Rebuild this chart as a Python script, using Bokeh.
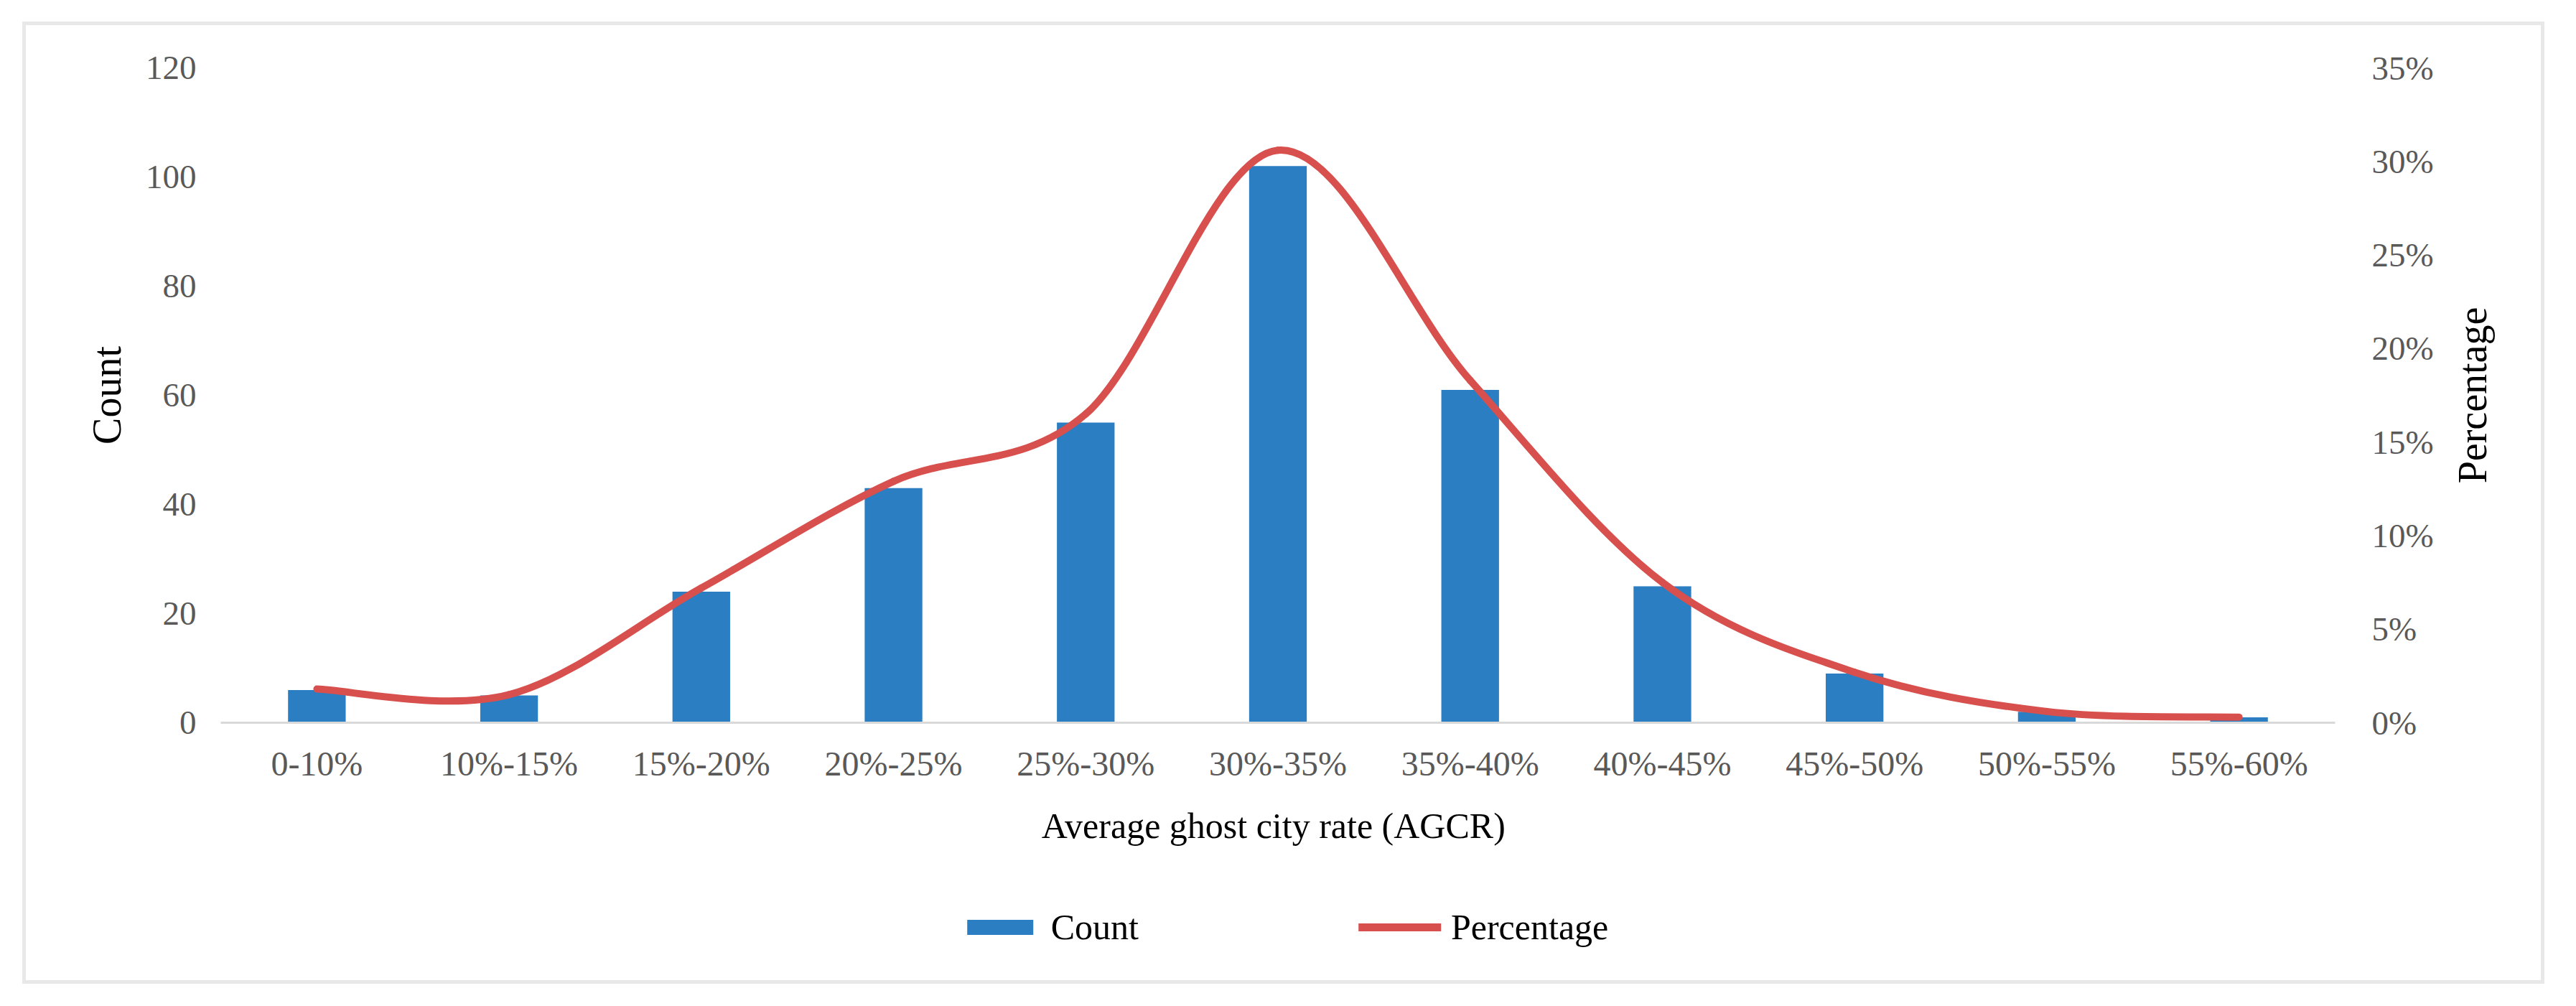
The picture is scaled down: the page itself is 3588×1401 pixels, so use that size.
from bokeh.plotting import figure
from bokeh.layouts import column, row
from bokeh.models import (Range1d, LinearAxis, FixedTicker, PrintfTickFormatter,
                          Legend, LegendItem)
from bokeh.embed import file_html
from bokeh.resources import INLINE

# ---- data ----
categories = ["0-10%", "10%-15%", "15%-20%", "20%-25%", "25%-30%", "30%-35%",
              "35%-40%", "40%-45%", "45%-50%", "50%-55%", "55%-60%"]
counts = [6, 5, 24, 43, 55, 102, 61, 25, 9, 2, 1]
percentages = [1.8, 1.5, 7.2, 12.9, 16.5, 30.6, 18.3, 7.5, 2.7, 0.6, 0.3]
count_ticks = [0, 20, 40, 60, 80, 100, 120]
pct_ticks = [0, 5, 10, 15, 20, 25, 30, 35]

BAR = "#2A7EC1"
RED = "#D8504E"
FONT = "Liberation Serif"
W = 3503          # inner width of the bordered box
WP = 3356         # main chart width
WR = W - WP       # strip holding the right-hand title
HP = 1182         # chart height
HQ = 1330 - HP    # legend strip height
TOP, BOTTOM = 59, 211

xs = [i + 0.5 for i in range(len(categories))]

p = figure(width=WP, height=HP, x_range=Range1d(0, len(categories)),
           y_range=Range1d(0, 120), output_backend="svg", toolbar_location=None,
           min_border_left=271, min_border_right=140, min_border_top=TOP,
           min_border_bottom=BOTTOM)
p.grid.visible = False
p.outline_line_color = None
p.background_fill_color = "white"
p.border_fill_color = "white"

# bars
bars = p.vbar(x=xs, top=counts, width=0.30, fill_color=BAR, line_color=None)

# smoothed line (Catmull-Rom bezier segments, like Excel's smoothed line)
p.extra_y_ranges = {"pct": Range1d(0, 35)}
n = len(xs)
x0, y0, x1, y1, cx0, cy0, cx1, cy1 = [], [], [], [], [], [], [], []
for i in range(n - 1):
    im1 = max(i - 1, 0)
    ip2 = min(i + 2, n - 1)
    x0.append(xs[i]); y0.append(percentages[i])
    x1.append(xs[i + 1]); y1.append(percentages[i + 1])
    cx0.append(xs[i] + (xs[i + 1] - xs[im1]) / 6)
    cy0.append(percentages[i] + (percentages[i + 1] - percentages[im1]) / 6)
    cx1.append(xs[i + 1] - (xs[ip2] - xs[i]) / 6)
    cy1.append(percentages[i + 1] - (percentages[ip2] - percentages[i]) / 6)
curve = p.bezier(x0=x0, y0=y0, x1=x1, y1=y1, cx0=cx0, cy0=cy0, cx1=cx1, cy1=cy1,
                 line_color=RED, line_width=10, line_cap="round",
                 y_range_name="pct")

# axes
xa = p.xaxis[0]
xa.ticker = FixedTicker(ticks=xs)
xa.major_label_overrides = {x: c for x, c in zip(xs, categories)}
xa.axis_label = "Average  ghost city rate (AGCR)"
xa.axis_line_color = "#D9D9D9"
xa.axis_line_width = 3
xa.major_label_standoff = 24
xa.axis_label_standoff = 29
xa.major_label_text_font_size = "48px"
xa.axis_label_text_font_size = "50px"

ya = p.yaxis[0]
ya.ticker = FixedTicker(ticks=count_ticks)
ya.axis_label = "Count"
ya.axis_line_color = None
ya.major_label_standoff = 28
ya.axis_label_standoff = 20
ya.major_label_text_font_size = "47px"
ya.axis_label_text_font_size = "56px"

ra = LinearAxis(y_range_name="pct", ticker=FixedTicker(ticks=pct_ticks),
                formatter=PrintfTickFormatter(format="%d%%"))
ra.axis_line_color = None
ra.major_label_standoff = 45
ra.major_label_text_font_size = "47px"
p.add_layout(ra, "right")

for ax in (xa, ya, ra):
    ax.major_tick_line_color = None
    ax.minor_tick_line_color = None
    ax.major_label_text_font = FONT
    ax.major_label_text_color = "#595959"
    ax.axis_label_text_font = FONT
    ax.axis_label_text_font_style = "normal"
    ax.axis_label_text_color = "#000000"

# narrow strip on the right: its left axis carries the upward-reading title
r = figure(width=WR, height=HP, x_range=Range1d(0, 1), y_range=Range1d(0, 35),
           output_backend="svg", toolbar_location=None, x_axis_location=None,
           min_border_left=82, min_border_right=0, min_border_top=TOP,
           min_border_bottom=BOTTOM)
r.grid.visible = False
r.outline_line_color = None
r.border_fill_color = "white"
rl = r.yaxis[0]
rl.ticker = FixedTicker(ticks=[])
rl.axis_line_color = None
rl.major_tick_line_color = None
rl.minor_tick_line_color = None
rl.major_tick_out = 0
rl.major_label_standoff = 0
rl.axis_label = "Percentage"
rl.axis_label_standoff = 0
rl.axis_label_text_font = FONT
rl.axis_label_text_font_size = "56px"
rl.axis_label_text_font_style = "normal"
rl.axis_label_text_color = "#000000"

# legend strip below the chart: proxy renderers (same data, ranges keep them
# out of view) supply the legend swatches
q = figure(width=W, height=HQ, x_range=Range1d(-200, -199),
           y_range=Range1d(-200, -199), output_backend="svg",
           toolbar_location=None, x_axis_location=None, y_axis_location=None,
           min_border=0)
q.grid.visible = False
q.outline_line_color = None
q.border_fill_color = "white"
leg_bar = q.vbar(x=xs, top=counts, width=0.3, fill_color=BAR, line_color=None)
leg_line = q.line(x=xs, y=percentages, line_color=RED, line_width=11,
                  line_cap="round")
legend = Legend(items=[LegendItem(label="Count", renderers=[leg_bar]),
                       LegendItem(label="Percentage", renderers=[leg_line])],
                orientation="horizontal", location="center",
                glyph_width=115, glyph_height=26, label_standoff=14,
                spacing=306, padding=0, margin=0,
                label_text_font=FONT, label_text_font_size="50px",
                label_text_color="#000000",
                border_line_color=None, background_fill_alpha=0)
q.add_layout(legend, "center")

layout = column(row(p, r, spacing=0), q, spacing=0)
layout.margin = (30, 0, 0, 31)
layout.styles = {"border": "5px solid #E8E8E8", "background-color": "white"}

open("out.html", "w").write(file_html(layout, INLINE))
